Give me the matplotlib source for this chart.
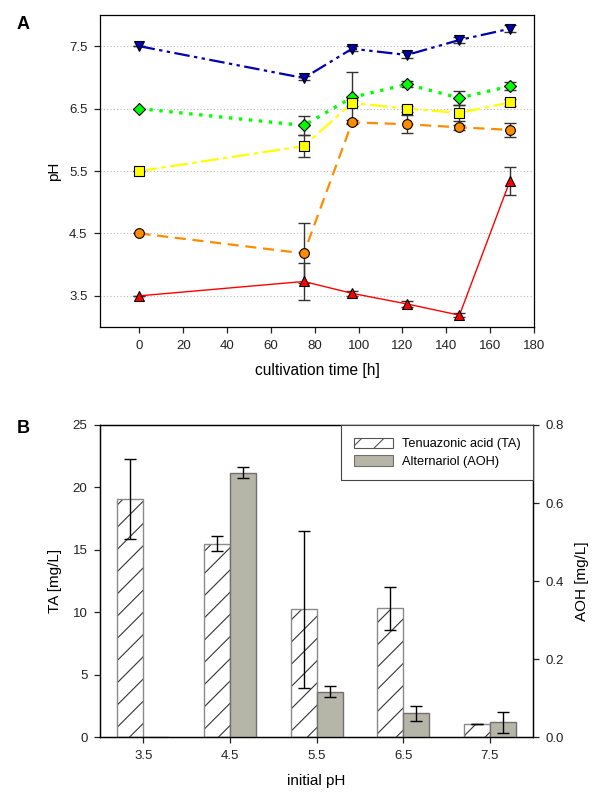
import numpy as np
import matplotlib
matplotlib.use("Agg")
import matplotlib.pyplot as plt
from matplotlib.patches import Patch

# drawn at 200 dpi so the hatch spacing matches; k converts sizes back
DPI = 200
k = 100 / DPI

plt.rcParams['font.family'] = ['Liberation Sans', 'DejaVu Sans']
plt.rcParams['hatch.linewidth'] = 0.8 * k
plt.rcParams['axes.linewidth'] = 0.9 * k

# Panel A: pH over cultivation time
time_h = [0, 75, 97, 122, 146, 169]
ph_75 = [7.5, 6.99, 7.46, 7.36, 7.60, 7.78]
ph_75_err = [0, 0.03, 0.04, 0.05, 0.05, 0.06]
ph_65 = [6.5, 6.23, 6.68, 6.89, 6.67, 6.86]
ph_65_err = [0, 0.15, 0.41, 0.05, 0.11, 0.06]
ph_55 = [5.5, 5.90, 6.59, 6.50, 6.43, 6.60]
ph_55_err = [0, 0.17, 0.05, 0.05, 0.13, 0.06]
ph_45 = [4.5, 4.18, 6.28, 6.25, 6.20, 6.16]
ph_45_err = [0, 0.48, 0.03, 0.14, 0.04, 0.11]
ph_35 = [3.5, 3.73, 3.54, 3.37, 3.19, 5.34]
ph_35_err = [0, 0.29, 0.04, 0.05, 0.03, 0.22]

# Panel B: toxin production by initial pH
initial_ph = ['3.5', '4.5', '5.5', '6.5', '7.5']
ta_mg = [19.1, 15.5, 10.25, 10.33, 1.1]
ta_err = [3.2, 0.6, 6.3, 1.7, 0]
aoh_mg = [0, 0.678, 0.117, 0.062, 0.038]
aoh_err = [0, 0.014, 0.014, 0.019, 0.026]

fig = plt.figure(figsize=(600 / DPI, 799 / DPI), dpi=DPI)

# ---- A ----
ax = fig.add_axes([0.1667, 0.5907, 0.7233, 0.3905])
series = [
    (ph_75, ph_75_err, '#0000b0', 'v', (0, (7, 2, 1.5, 2, 1.5, 2)), 1.6),
    (ph_65, ph_65_err, '#00ff00', 'D', (0, (1, 2)), 2.4),
    (ph_55, ph_55_err, '#ffff00', 's', (0, (8, 2, 2, 2)), 1.6),
    (ph_45, ph_45_err, '#ff8c00', 'o', (0, (5, 3)), 1.6),
    (ph_35, ph_35_err, '#ff0000', '^', '-', 1.0),
]
for y, e, c, m, ls, lw in series:
    ax.errorbar(time_h, y, yerr=e, fmt='none', ecolor='#333333',
                elinewidth=1.0 * k, capsize=4 * k, capthick=1.0 * k, zorder=2)
    ax.plot(time_h, y, color=c, linestyle=ls, linewidth=lw * k, zorder=3)
    ax.plot(time_h, y, linestyle='none', marker=m,
            markersize=(7 if m != 'D' else 6) * k,
            markerfacecolor=c, markeredgecolor='black',
            markeredgewidth=0.8 * k, zorder=4)

ax.set_xlim(-18, 180)
ax.set_ylim(3.0, 8.0)
ax.set_xticks(np.arange(0, 181, 20))
ax.set_yticks([3.5, 4.5, 5.5, 6.5, 7.5])
ax.set_yticklabels(['3.5', '4.5', '5.5', '6.5', '7.5'])
ax.yaxis.grid(True, linestyle=(0, (1, 2)), color='#bbbbbb', linewidth=0.8 * k)
ax.set_axisbelow(True)
ax.tick_params(direction='out', length=4 * k, width=0.9 * k, labelsize=9.5 * k,
               colors='#222222', pad=5 * k)
ax.set_xlabel('cultivation time [h]', fontsize=11.2 * k, labelpad=8 * k)
ax.set_ylabel('pH', fontsize=11 * k, labelpad=6 * k)
fig.text(0.028, 0.969, 'A', fontsize=13 * k, fontweight='bold', va='center')

# ---- B ----
bx = fig.add_axes([0.1667, 0.0772, 0.7217, 0.3909])
x = np.arange(len(initial_ph))
w = 0.3
# hatch drawn in dark grey, outline in lighter grey on top
bx.bar(x - w / 2, ta_mg, w, color='white', edgecolor='#333333', hatch='///',
       linewidth=0, zorder=2)
bx.bar(x - w / 2, ta_mg, w, fill=False, edgecolor='#8a8a8a', linewidth=1.0 * k, zorder=2)
bx.errorbar(x - w / 2, ta_mg, yerr=ta_err, fmt='none', ecolor='black',
            elinewidth=1.0 * k, capsize=4 * k, capthick=1.0 * k, zorder=3)
bx.set_xlim(-0.5, 4.5)
bx.set_ylim(0, 25)
bx.set_yticks(np.arange(0, 26, 5))
bx.set_xticks(x)
bx.set_xticklabels(initial_ph)
bx.tick_params(direction='out', length=4 * k, width=0.9 * k, labelsize=9.5 * k,
               colors='#222222', pad=5 * k)
bx.set_xlabel('initial pH', fontsize=11 * k, labelpad=9 * k)
bx.set_ylabel('TA [mg/L]', fontsize=11 * k, labelpad=8 * k)

bx2 = bx.twinx()
bx2.bar(x + w / 2, aoh_mg, w, color='#b5b5a8', edgecolor='#707070',
        linewidth=1.0 * k, zorder=2)
bx2.errorbar((x + w / 2)[1:], aoh_mg[1:], yerr=aoh_err[1:], fmt='none', ecolor='black',
             elinewidth=1.0 * k, capsize=4 * k, capthick=1.0 * k, zorder=3)
bx2.set_ylim(0, 0.8)
bx2.set_yticks([0.0, 0.2, 0.4, 0.6, 0.8])
bx2.set_yticklabels(['0.0', '0.2', '0.4', '0.6', '0.8'])
bx2.tick_params(direction='out', length=4 * k, width=0.9 * k, labelsize=9.5 * k,
                colors='#222222', pad=5 * k)
bx2.set_ylabel('AOH [mg/L]', fontsize=11 * k, labelpad=8 * k)

handles = [Patch(facecolor='white', edgecolor='#555555', hatch='///', linewidth=0.8 * k),
           Patch(facecolor='#b5b5a8', edgecolor='#707070', linewidth=0.8 * k)]
labels = ['Tenuazonic acid (TA)', 'Alternariol (AOH)']
leg = bx2.legend(handles, labels, loc='upper right', fontsize=9.2 * k, fancybox=False,
                 edgecolor='#444444', framealpha=1, borderaxespad=0, borderpad=1.0,
                 labelspacing=0.35, handlelength=3.0, handleheight=0.9,
                 handletextpad=0.7)
leg.get_frame().set_linewidth(0.8 * k)
fig.text(0.028, 0.4643, 'B', fontsize=13 * k, fontweight='bold', va='center')

fig.savefig('out.png', dpi=DPI)
